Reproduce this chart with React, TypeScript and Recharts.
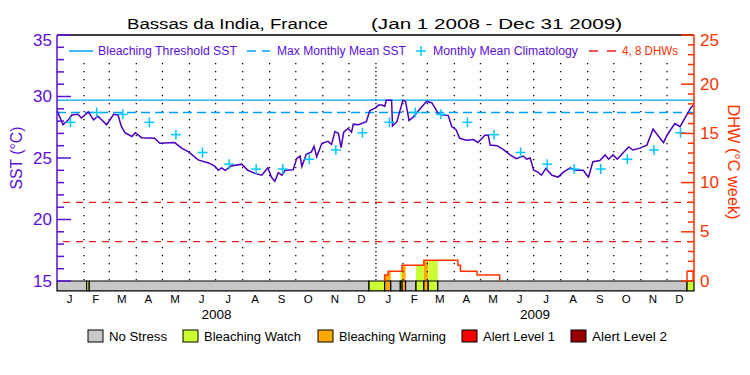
import React from 'react';
import { ComposedChart, Line, Scatter, XAxis, YAxis, ReferenceLine, ReferenceArea } from 'recharts';

// ---------- data ----------
const sstDays = [0, 7, 13, 17, 24, 28, 36, 42, 47, 57, 65, 70, 74, 78, 86, 90, 97, 112, 118, 135, 143, 151, 162, 174, 181, 185, 189, 193, 200, 212, 219, 227, 235, 242, 246, 250, 254, 258, 262, 271, 275, 279, 281, 286, 292, 295, 298, 304, 311, 315, 319, 323, 326, 329, 334, 338, 340, 346, 355, 359, 365, 369, 373, 376, 378, 384, 385, 390, 397, 400, 404, 409, 413, 418, 424, 430, 434, 438, 449, 453, 458, 462, 470, 478, 483, 491, 495, 497, 505, 512, 520, 527, 535, 539, 543, 547, 552, 556, 561, 568, 575, 581, 589, 594, 604, 608, 610, 615, 623, 629, 633, 638, 643, 650, 656, 661, 669, 677, 684, 692, 696, 700, 709, 715, 723, 728, 731];
const sstValues = [28.85, 27.7, 28.1, 28.5, 28.55, 28.25, 28.75, 28.1, 28.4, 27.7, 28.55, 28.5, 27.55, 27.05, 26.75, 27.05, 26.65, 26.6, 26.2, 26.25, 25.8, 25.5, 24.85, 24.6, 24.35, 24.0, 24.2, 24.0, 24.35, 24.5, 24.0, 23.75, 23.6, 24.2, 23.45, 23.1, 23.8, 23.6, 24.0, 24.05, 24.95, 25.15, 24.3, 25.3, 25.5, 25.95, 25.1, 26.2, 26.35, 26.1, 27.15, 27.0, 25.85, 27.1, 27.4, 27.1, 27.75, 27.7, 27.95, 28.85, 29.05, 29.3, 29.3, 29.2, 29.7, 29.7, 27.6, 27.95, 29.7, 29.6, 28.05, 28.35, 28.7, 29.1, 29.6, 29.5, 29.05, 28.55, 28.45, 27.55, 27.3, 26.6, 26.45, 26.5, 26.25, 26.85, 26.85, 26.05, 26.0, 25.7, 25.25, 24.95, 25.15, 24.9, 25.0, 24.0, 23.85, 23.6, 24.15, 23.6, 23.45, 23.85, 24.2, 24.0, 24.0, 23.6, 23.45, 24.7, 24.8, 25.25, 24.9, 25.25, 24.9, 25.45, 25.9, 25.65, 25.8, 26.05, 27.35, 26.6, 26.25, 26.85, 27.8, 27.55, 28.55, 29.15, 29.3];

const monthLetters = ['J', 'F', 'M', 'A', 'M', 'J', 'J', 'A', 'S', 'O', 'N', 'D'];
const monthStartDays = [0, 31, 60, 91, 121, 152, 182, 213, 244, 274, 305, 335, 366, 397, 425, 456, 486, 517, 547, 578, 609, 639, 670, 700, 731];
const climatology = [27.9, 28.7, 28.55, 27.9, 26.9, 25.45, 24.5, 24.1, 24.1, 24.9, 25.65, 27.05];
const yearLabels = ['2008', '2009'];
const yearStartDays = [0, 366, 731];

const bleachingThreshold = 29.7;
const maxMonthlyMean = 28.7;
const dhwLevels = [4, 8];

// Degree heating weeks (step changes); zero stretches are hidden under the status strip
const dhwDays = [376, 376, 380, 396, 421, 460, 463, 482, 508, 509, 723, 723, 730];
const dhwValues: (number | null)[] = [0, 0.6, 1.0, 1.6, 2.1, 1.6, 1.0, 0.6, 0, null, 0, 1.0, 0];

const stressStart = [0, 34, 37, 358, 376, 383, 394, 396, 400, 412, 421, 426, 437, 723];
const stressEnd = [34, 37, 358, 376, 383, 394, 396, 400, 412, 421, 426, 437, 723, 731];
const stressLevel = [0, 1, 0, 1, 2, 0, 1, 2, 0, 1, 2, 1, 0, 1];
const stressFilled = [false, false, false, true, true, false, true, true, false, true, true, true, false, false];

const legendNames = ['No Stress', 'Bleaching Watch', 'Bleaching Warning', 'Alert Level 1', 'Alert Level 2'];

// ---------- styles ----------
const PURPLE = '#5a10d8';
const LINE_PURPLE = '#4a00c0';
const ORANGE = '#ff3300';
const CYAN = '#00a0ff';
const CROSS = '#00c8ff';
const RED = '#ee1c1c';
const STRESS_COLORS = ['#c8c8c8', '#ccff33', '#ffaa00', '#f00000', '#990000'];
const FONT = '"Liberation Sans", Arial, sans-serif';
const BAR_LOW = 14.19; // bottom of the status strip in SST units

// ---------- derived tables ----------
const sstData = sstDays.map((d, i) => ({ day: d, sst: sstValues[i] }));
const dhwData = dhwDays.map((d, i) => ({ day: d, dhw: dhwValues[i] }));
const monthMids = monthStartDays.slice(0, -1).map((d, i) => (d + monthStartDays[i + 1]) / 2);
const climData = monthMids.map((d, i) => ({ day: d, clim: climatology[i % 12] }));
const yearMids = yearLabels.map((_, i) => (yearStartDays[i] + yearStartDays[i + 1]) / 2);
const sstTicks = Array.from({ length: 21 }, (_, i) => 15 + i);
const dhwTicks = Array.from({ length: 26 }, (_, i) => i);

const fillRects: { x1: number; x2: number; h: number; c: string }[] = [];
stressStart.forEach((s, i) => {
  if (!stressFilled[i]) return;
  const e = stressEnd[i];
  for (let j = 0; j < dhwDays.length - 1; j++) {
    const a = Math.max(s, dhwDays[j]);
    const b = Math.min(e, dhwDays[j + 1]);
    const h = dhwValues[j];
    if (b > a && h !== null && h > 0) fillRects.push({ x1: a, x2: b, h, c: STRESS_COLORS[stressLevel[i]] });
  }
});

const LeftTick = (props: any) => {
  const { x, y, payload } = props;
  const v = payload.value;
  const major = v % 5 === 0;
  return (
    <g>
      <line x1={x} x2={x + (major ? 14 : 7)} y1={y} y2={y} stroke={PURPLE} strokeWidth={1.5} />
      {major && (
        <text x={x - 5} y={y + (v === 35 ? 5 : 0)} textAnchor="end" dominantBaseline="central" fill={PURPLE} fontSize={17} fontFamily={FONT}>
          {v}
        </text>
      )}
    </g>
  );
};

const RightTick = (props: any) => {
  const { x, y, payload } = props;
  const v = payload.value;
  const major = v % 5 === 0;
  return (
    <g>
      <line x1={x} x2={x - (major ? 13 : 6)} y1={y} y2={y} stroke={ORANGE} strokeWidth={1.5} />
      {major && (
        <text x={x + 6} y={y + (v === 25 ? 5 : 0)} textAnchor="start" dominantBaseline="central" fill={ORANGE} fontSize={17} fontFamily={FONT}>
          {v}
        </text>
      )}
    </g>
  );
};

const MonthTick = (props: any) => {
  const { x, y, index } = props;
  return (
    <text x={x - 1} y={y + 22} textAnchor="middle" fill="#000" fontSize={11.5} fontFamily={FONT}>
      {monthLetters[index % 12]}
    </text>
  );
};

const YearTick = (props: any) => {
  const { x, y, index } = props;
  return (
    <text x={x} y={y + 8} textAnchor="middle" fill="#000" fontSize={13.5} fontFamily={FONT}>
      {yearLabels[index]}
    </text>
  );
};

const Cross = (props: any) => {
  const { cx, cy } = props;
  return (
    <g>
      <line x1={cx - 5} x2={cx + 5} y1={cy} y2={cy} stroke={CROSS} strokeWidth={1.5} />
      <line x1={cx} x2={cx} y1={cy - 5} y2={cy + 5} stroke={CROSS} strokeWidth={1.5} />
    </g>
  );
};

const legendBoxX = [88, 183, 318, 462, 571];
const legendTextW = [58, 97, 107, 72, 75];

export default function App() {
  return (
    <div style={{ position: 'absolute', left: 0, top: 0, width: 750, height: 375, background: '#fff' }}>
      <ComposedChart width={750} height={375} margin={{ top: 35, right: 0, bottom: 0, left: 0 }}>
        <XAxis xAxisId="m" dataKey="day" type="number" domain={[0, 731]} ticks={monthMids} interval={0}
          tick={<MonthTick />} tickLine={false} axisLine={false} tickSize={0} tickMargin={0} height={30} allowDataOverflow />
        <XAxis xAxisId="y" dataKey="day" type="number" domain={[0, 731]} ticks={yearMids} interval={0}
          tick={<YearTick />} tickLine={false} axisLine={false} tickSize={0} tickMargin={0} height={64} allowDataOverflow />
        <YAxis yAxisId="sst" orientation="left" width={57} domain={[15, 35]} ticks={sstTicks} interval={0}
          tick={<LeftTick />} tickLine={false} tickSize={0} tickMargin={0} axisLine={{ stroke: PURPLE, strokeWidth: 1.5 }} allowDataOverflow />
        <YAxis yAxisId="dhw" orientation="right" width={56} domain={[0, 25]} ticks={dhwTicks} interval={0}
          tick={<RightTick />} tickLine={false} tickSize={0} tickMargin={0} axisLine={{ stroke: ORANGE, strokeWidth: 1.5 }} allowDataOverflow />

        {fillRects.map((r, i) => (
          <ReferenceArea key={'f' + i} xAxisId="m" yAxisId="dhw" x1={r.x1} x2={r.x2} y1={0} y2={r.h}
            fill={r.c} fillOpacity={1} stroke="none" ifOverflow="visible" />
        ))}

        {stressStart.map((s, i) => (
          <ReferenceArea key={'s' + i} xAxisId="m" yAxisId="sst" x1={s} x2={stressEnd[i]} y1={BAR_LOW} y2={15}
            fill={STRESS_COLORS[stressLevel[i]]} fillOpacity={1} stroke="#000" strokeWidth={1.2} ifOverflow="visible" />
        ))}

        {monthStartDays.slice(1, -1).map((d) => (
          <ReferenceLine key={'v' + d} xAxisId="m" yAxisId="sst"
            segment={[{ x: d, y: 32.72 }, { x: d, y: 15 }]}
            stroke="#000" strokeWidth={1.3} strokeDasharray={d === yearStartDays[1] ? '1.3 2.7' : '1.3 6.7'} />
        ))}

        <ReferenceLine xAxisId="m" yAxisId="sst" y={35} stroke="#000" strokeWidth={1.5} />
        <ReferenceLine xAxisId="m" yAxisId="sst" y={bleachingThreshold} stroke={CYAN} strokeWidth={1.3} />
        <ReferenceLine xAxisId="m" yAxisId="sst" y={maxMonthlyMean} stroke={CYAN} strokeWidth={1.3} strokeDasharray="9 5" />
        {dhwLevels.map((l) => (
          <ReferenceLine key={'d' + l} xAxisId="m" yAxisId="dhw" y={l} stroke={RED} strokeWidth={1.3} strokeDasharray="7 6" />
        ))}

        <Line xAxisId="m" yAxisId="dhw" data={dhwData} dataKey="dhw" type="stepAfter" stroke={ORANGE}
          strokeWidth={1.5} dot={false} connectNulls={false} isAnimationActive={false} />
        <Scatter xAxisId="m" yAxisId="sst" data={climData} dataKey="clim" shape={<Cross />} isAnimationActive={false} />
        <Line xAxisId="m" yAxisId="sst" data={sstData} dataKey="sst" type="linear" stroke={LINE_PURPLE}
          strokeWidth={1.5} dot={false} isAnimationActive={false} />
      </ComposedChart>

      <svg width={750} height={375} style={{ position: 'absolute', left: 0, top: 0, pointerEvents: 'none' }} fontFamily={FONT}>
        <text x={127} y={29} fontSize={15.5} fill="#000" textLength={201} lengthAdjust="spacingAndGlyphs">Bassas da India, France</text>
        <text x={371} y={29} fontSize={15.5} fill="#000" textLength={251} lengthAdjust="spacingAndGlyphs">(Jan 1 2008 - Dec 31 2009)</text>

        <line x1={69} x2={93} y1={51} y2={51} stroke={CYAN} strokeWidth={1.5} />
        <text x={98} y={55} fontSize={12} fill={PURPLE} textLength={139} lengthAdjust="spacingAndGlyphs">Bleaching Threshold SST</text>
        <line x1={247} x2={256} y1={51} y2={51} stroke={CYAN} strokeWidth={1.5} />
        <line x1={262} x2={270} y1={51} y2={51} stroke={CYAN} strokeWidth={1.5} />
        <text x={277} y={55} fontSize={12} fill={PURPLE} textLength={129} lengthAdjust="spacingAndGlyphs">Max Monthly Mean SST</text>
        <line x1={416} x2={426} y1={51} y2={51} stroke={CROSS} strokeWidth={1.5} />
        <line x1={421} x2={421} y1={46} y2={56} stroke={CROSS} strokeWidth={1.5} />
        <text x={433} y={55} fontSize={12} fill={PURPLE} textLength={145} lengthAdjust="spacingAndGlyphs">Monthly Mean Climatology</text>
        <line x1={589} x2={598} y1={51} y2={51} stroke={RED} strokeWidth={1.5} />
        <line x1={607} x2={616} y1={51} y2={51} stroke={RED} strokeWidth={1.5} />
        <text x={622} y={55} fontSize={12} fill={ORANGE} textLength={56} lengthAdjust="spacingAndGlyphs">4, 8 DHWs</text>

        <text transform="translate(22,158) rotate(-90)" textAnchor="middle" fontSize={16} fill={PURPLE} textLength={63} lengthAdjust="spacingAndGlyphs">SST (°C)</text>
        <text transform="translate(728,162) rotate(90)" textAnchor="middle" fontSize={16} fill={ORANGE} textLength={115} lengthAdjust="spacingAndGlyphs">DHW (°C week)</text>

        {legendNames.map((n, i) => (
          <g key={n}>
            <rect x={legendBoxX[i]} y={330} width={15} height={12} fill={STRESS_COLORS[i]} stroke="#000" strokeWidth={1} />
            <text x={legendBoxX[i] + 21} y={341} fontSize={12.5} fill="#000" textLength={legendTextW[i]} lengthAdjust="spacingAndGlyphs">{n}</text>
          </g>
        ))}
      </svg>
    </div>
  );
}
